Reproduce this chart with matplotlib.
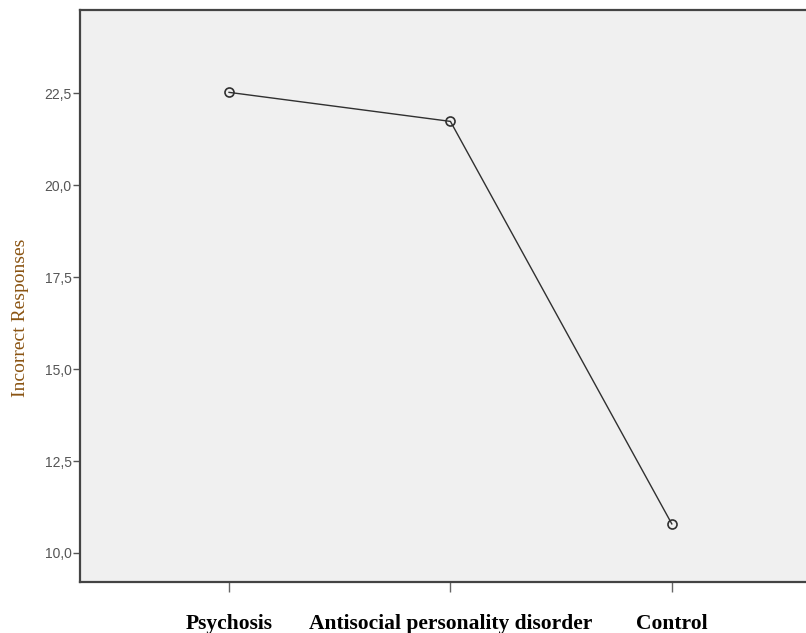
import matplotlib.pyplot as plt
from matplotlib.ticker import FuncFormatter

groups = ['Psychosis', 'Antisocial personality disorder', 'Control']
incorrect = [22.53, 21.74, 10.79]
y_ticks = [10.0, 12.5, 15.0, 17.5, 20.0, 22.5]

fig = plt.figure(figsize=(8.06, 6.33), dpi=100)
ax = fig.add_axes([0.0993, 0.0806, 0.91, 0.903])
ax.set_facecolor('#f0f0f0')

x = list(range(len(groups)))
ax.plot(x, incorrect, color='#303030', linewidth=1.0, marker='o',
        markersize=6.5, markerfacecolor='none', markeredgecolor='#303030',
        markeredgewidth=1.2)

ax.set_xlim(-0.673, 2.64)
ax.set_ylim(9.21, 24.76)
ax.set_yticks(y_ticks)
ax.yaxis.set_major_formatter(FuncFormatter(lambda v, p: f'{v:.1f}'.replace('.', ',')))
ax.set_xticks(x)
ax.set_xticklabels(groups, fontsize=15.5, fontweight='bold',
                   family='Liberation Serif', color='black')
for t in ax.get_yticklabels():
    t.set_family('Liberation Sans')

ax.tick_params(axis='y', direction='out', length=5, width=1, color='#555555',
               labelsize=10, labelcolor='#555555', pad=1)
ax.tick_params(axis='x', direction='out', length=7, width=1, color='#666666', pad=16)

for s in ['left', 'top', 'bottom']:
    ax.spines[s].set_color('#444444')
    ax.spines[s].set_linewidth(1.6)
ax.spines['right'].set_visible(False)

ax.set_ylabel('Incorrect Responses', family='Liberation Serif', fontsize=14,
              color='#8a5412')
ax.yaxis.set_label_coords(-0.069, 0.463)

plt.savefig('out.png', dpi=100)
